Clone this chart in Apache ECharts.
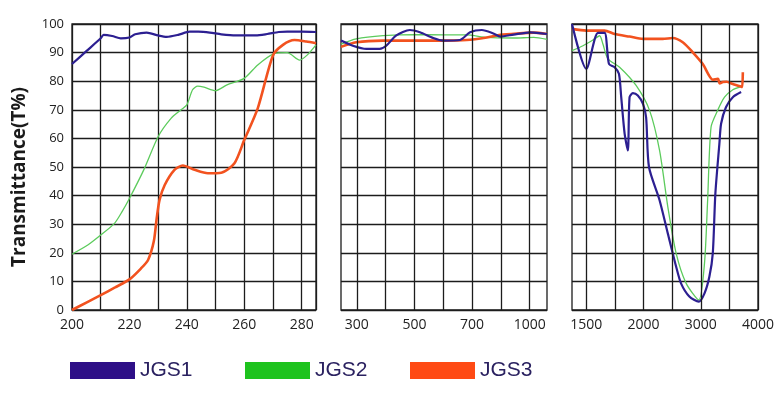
<!DOCTYPE html>
<html><head><meta charset="utf-8">
<script src="https://cdn.jsdelivr.net/npm/echarts@6/dist/echarts.min.js"></script>
<style>html,body{margin:0;padding:0;background:#fff}#c{width:782px;height:394px}</style>
</head><body><div id="c"></div>
<script>
// ---------- data ----------
const seriesNames = ['JGS1', 'JGS2', 'JGS3'];
const yAxisTitle = 'Transmittance(T%)';
const yMin = 0, yMax = 100, yStep = 10;

// Panel 1 : 200–285 nm (linear)
const p1Range = [200, 285];
const p1Step = 10;
const p1Labels = [200, 220, 240, 260, 280];
const p1_JGS1 = [[200,86],[205,90.5],[210,95],[211,96.2],[214,95.8],[217,95],[220,95.3],[222,96.4],[226,97],[230,96],[233,95.5],[237,96.2],[241,97.3],[244,97.3],[248,97],[252,96.4],[257,96],[264,96],[268,96.5],[272,97.2],[275,97.3],[280,97.3],[285,97.2]];
const p1_JGS2 = [[200,19.5],[205.5,22.7],[210,26.2],[214.8,30.3],[217.5,34.5],[220,39],[225,49],[230,60.6],[234.5,67],[238,70],[240,71.7],[242,77],[243.8,78.3],[246,77.9],[250,76.7],[254,78.7],[260,81],[264.7,85.7],[270,89.5],[275,90],[279.3,87.4],[282,89.2],[285,92.7]];
const p1_JGS3 = [[200,0],[205,2.6],[210,5.2],[215,7.9],[220,10.7],[224,14.5],[226.5,17.5],[228.5,24],[229.5,32],[230.5,38.5],[232.3,43.7],[235.7,49],[238.6,50.5],[242.7,49],[247.3,47.8],[252,48],[256.6,51.3],[260,59.4],[264.7,70.5],[270,89],[273.5,92.7],[277.5,94.4],[281.6,93.9],[285,93.3]];

// Panel 2 : broken, non-linear scale 300–1000 nm
const p2Ticks = [300, 400, 500, 600, 700, 850, 1000];
const p2Labels = [300, 500, 700, 1000];
const p2Range = [245, 1090];
const p2_JGS1 = [[245,94.2],[286,92.4],[333,91.3],[379,91.3],[402,92.4],[437,96],[484,97.9],[519,97.1],[565,95.1],[600,94.2],[658,94.4],[693,97.1],[751,97.9],[811,96.7],[847,95.6],[916,96.3],[1003,97.1],[1090,96.5]];
const p2_JGS2 = [[245,93],[298,94.8],[391,95.9],[501,96.3],[600,96.2],[681,96.2],[777,95.3],[916,95.1],[1021,95.3],[1090,94.6]];
const p2_JGS3 = [[245,92],[298,93.6],[391,94.2],[501,94.2],[600,94.2],[681,94.4],[777,95.3],[847,96.2],[934,96.7],[1021,97],[1090,96.5]];

// Panel 3 : broken, non-linear scale 1500–4000 nm
const p3Ticks = [1500, 1750, 2000, 2500, 3000, 3500, 4000];
const p3Labels = [1500, 2000, 3000, 4000];
const p3Range = [1375, 4000];
const p3_JGS1 = [[1375,100],[1500,84.3],[1602,96.9],[1660,96.9],[1698,86],[1747,84.9],[1785,82.6],[1805,74.4],[1835,61.6],[1863,55.8],[1878,74.4],[1907,75.8],[1950,75],[1995,72.1],[2045,67.4],[2095,50],[2280,38.4],[2425,26.7],[2570,15.1],[2655,9.3],[2800,4.7],[2965,2.9],[3065,5.8],[3150,11.6],[3210,19.8],[3255,40.7],[3325,58.1],[3355,65.1],[3440,70.9],[3560,74.4],[3705,76.2]];
const p3_JGS2 = [[1375,90.7],[1471,92.4],[1558,94.4],[1616,95.9],[1645,93],[1689,87.8],[1791,84.9],[1935,78.5],[2105,69.8],[2280,55.8],[2425,36],[2570,19.8],[2745,9.3],[2965,3.5],[3065,16.3],[3120,38.4],[3180,64],[3295,69.8],[3415,74.4],[3560,77],[3705,78.1]];
const p3_JGS3 = [[1375,98.3],[1500,97.7],[1660,97.7],[1747,96.5],[1878,95.6],[1995,94.8],[2335,94.8],[2510,95.1],[2685,93.6],[2860,90.1],[3035,86],[3210,80.5],[3300,80.8],[3330,79.2],[3385,79.7],[3450,79.8],[3560,79],[3705,78.1],[3725,78],[3735,83.1]];

// ---------- styling ----------
const lineColors = ['#2c1f91', '#5ccb5c', '#f2521f'];
const legendColors = ['#2e0f87', '#1ec31e', '#ff4a14'];
const lineWidths = [2.2, 1.3, 2.6];
const gridColor = '#1c1c1c';
const legendLefts = [70, 245, 410];

function makeMap(ticks) {
  return function (wl) {
    const n = ticks.length;
    let i;
    if (wl <= ticks[1]) i = 0;
    else if (wl >= ticks[n - 2]) i = n - 2;
    else { i = 0; while (!(wl >= ticks[i] && wl <= ticks[i + 1])) i++; }
    return i + (wl - ticks[i]) / (ticks[i + 1] - ticks[i]);
  };
}
const map2 = makeMap(p2Ticks), map3 = makeMap(p3Ticks);
const conv = (arr, f) => arr.map(d => [f(d[0]), d[1]]);

const grids = [
  { left: 72, top: 24, width: 244, height: 286 },
  { left: 341, top: 24, width: 206, height: 286 },
  { left: 572, top: 24, width: 186, height: 286 }
].map(g => Object.assign(g, { show: true, borderColor: gridColor, borderWidth: 1.3, backgroundColor: 'transparent' }));

const labelStyle = { color: '#222', fontSize: 14, fontFamily: 'Open Sans', margin: 8 };

function customXAxis(idx, ticks, labels, range, map) {
  const labelPos = labels.map(v => map(v));
  return {
    type: 'value', gridIndex: idx, min: map(range[0]), max: map(range[1]),
    axisLine: { show: false }, axisTick: { show: false }, splitLine: { show: false },
    axisLabel: Object.assign({}, labelStyle, {
      customValues: labelPos,
      formatter: function (v) {
        for (let k = 0; k < labelPos.length; k++) if (Math.abs(labelPos[k] - v) < 1e-6) return String(labels[k]);
        return '';
      }
    })
  };
}

const xAxes = [
  {
    type: 'value', gridIndex: 0, min: p1Range[0], max: p1Range[1], interval: p1Step,
    axisLine: { show: false }, axisTick: { show: false },
    splitLine: { show: true, lineStyle: { color: gridColor, width: 1.3 } },
    axisLabel: Object.assign({}, labelStyle, {
      showMaxLabel: false,
      formatter: v => (p1Labels.indexOf(v) >= 0 ? String(v) : '')
    })
  },
  customXAxis(1, p2Ticks, p2Labels, p2Range, map2),
  customXAxis(2, p3Ticks, p3Labels, p3Range, map3)
];

const yAxes = [0, 1, 2].map(i => ({
  type: 'value', gridIndex: i, min: yMin, max: yMax, interval: yStep,
  axisLine: { show: false }, axisTick: { show: false },
  splitLine: { show: true, lineStyle: { color: gridColor, width: 1.3 } },
  axisLabel: i === 0 ? { color: '#222', fontSize: 13, fontFamily: 'Open Sans', margin: 8 } : { show: false }
}));

function gridLineSeries(idx, ticks, map) {
  return {
    type: 'line', xAxisIndex: idx, yAxisIndex: idx, data: [], z: 1, silent: true,
    markLine: {
      silent: true, symbol: ['none', 'none'], animation: false,
      label: { show: false },
      lineStyle: { color: gridColor, width: 1.3, type: 'solid' },
      emphasis: { disabled: true },
      data: ticks.map(t => ({ xAxis: map(t) }))
    }
  };
}

function dataSeries(name, k, idx, data) {
  return {
    name: name, type: 'line', xAxisIndex: idx, yAxisIndex: idx, data: data,
    showSymbol: false, smooth: 0.25, z: 3,
    lineStyle: { color: lineColors[k], width: lineWidths[k] },
    itemStyle: { color: lineColors[k] },
    emphasis: { disabled: true }
  };
}

const panelData = [
  [p1_JGS1, p1_JGS2, p1_JGS3],
  [conv(p2_JGS1, map2), conv(p2_JGS2, map2), conv(p2_JGS3, map2)],
  [conv(p3_JGS1, map3), conv(p3_JGS2, map3), conv(p3_JGS3, map3)]
];

const series = [gridLineSeries(1, p2Ticks, map2), gridLineSeries(2, p3Ticks, map3)];
panelData.forEach((pd, idx) => {
  [1, 2, 0].forEach(k => series.push(dataSeries(seriesNames[k], k, idx, pd[k])));
});

const legends = seriesNames.map((n, k) => ({
  left: legendLefts[k], top: 360, padding: 0, icon: 'rect', itemWidth: 65, itemHeight: 17,
  selectedMode: false,
  textStyle: { fontSize: 21, color: '#2a2160', fontFamily: 'Liberation Sans', padding: [0, 0, 0, 0] },
  data: [{ name: n, itemStyle: { color: legendColors[k] } }]
}));

const chart = echarts.init(document.getElementById('c'), null, { renderer: 'canvas' });
chart.setOption({
  animation: false,
  backgroundColor: '#fff',
  grid: grids,
  xAxis: xAxes,
  yAxis: yAxes,
  legend: legends,
  graphic: [{
    type: 'text', x: 20, y: 177, rotation: Math.PI / 2,
    style: {
      text: yAxisTitle, fontSize: 19, fontWeight: 'bold', fontFamily: 'Open Sans',
      fill: '#1a1a1a', align: 'center', verticalAlign: 'middle'
    }
  }],
  series: series
});
</script>
</body></html>
